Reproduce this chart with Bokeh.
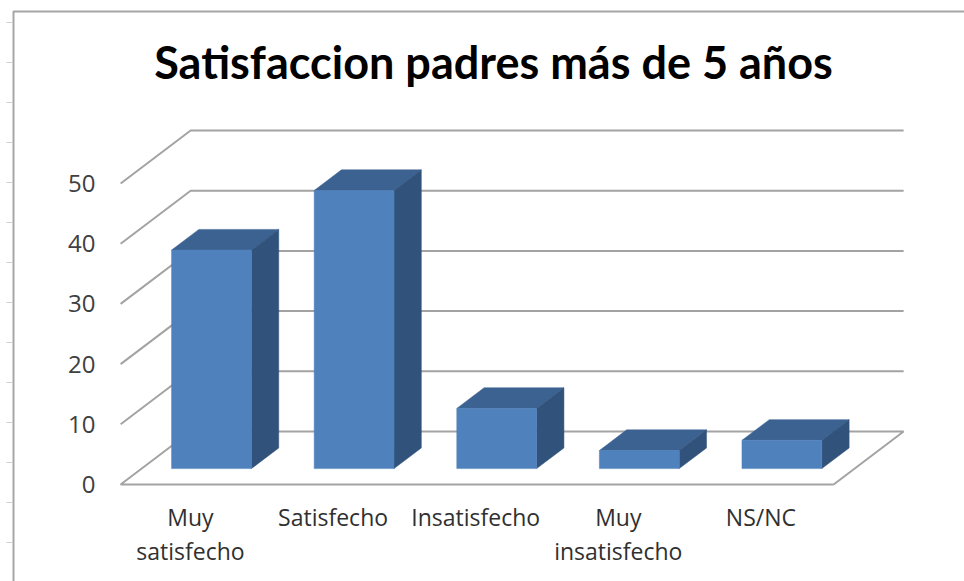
from bokeh.plotting import figure
from bokeh.models import Range1d, LinearAxis, FixedTicker
from bokeh.core.properties import value
from bokeh.embed import file_html
from bokeh.resources import INLINE

# ---- data ----
title_text = "Satisfaccion padres más de 5 años"
categories = ["Muy satisfecho", "Satisfecho", "Insatisfecho", "Muy insatisfecho", "NS/NC"]
tick_labels = ["Muy\nsatisfecho", "Satisfecho", "Insatisfecho", "Muy\ninsatisfecho", "NS/NC"]
values = [36.3, 46.2, 10.0, 3.0, 4.7]
value_ticks = [0, 10, 20, 30, 40, 50]

# ---- layout: page pixels -> data scale ----
W, H = 964, 581
X0_PX, X_STEP = 190.0, 142.6      # page x of category 0, px per category
Y0_PX, Y_STEP = 484.0, 6.02       # page y of value 0, px per value unit
DX, DY = 70 / X_STEP, 53 / Y_STEP  # depth vector of the 3D floor in data units
HALF = 0.28                        # half bar width
D_FRONT, D_BACK = 0.30, 0.69       # bar depth positions


def dx(px):
    return (px - X0_PX) / X_STEP


def dy(py):
    return (Y0_PX - py) / Y_STEP


def proj(x, v, d):
    return x + DX * d, v + DY * d


p = figure(width=W, height=H, toolbar_location=None, output_backend="svg",
           x_range=Range1d(dx(0), dx(W)), y_range=Range1d(dy(H), dy(0)),
           min_border=0, min_border_left=0, min_border_right=0, min_border_top=0, min_border_bottom=0,
           background_fill_color="white", border_fill_color="white", outline_line_color=None,
           x_axis_location=None, y_axis_location=None)
p.grid.visible = False

# chart area frame with the stray ruler ticks at its left
FRAME = "#A6A6A6"
p.line([dx(13), dx(13), dx(964)], [dy(581), dy(11), dy(11)], line_color=FRAME, line_width=2)
for k in range(14):
    yy = dy(22 + 40 * k)
    p.line([dx(6), dx(12)], [yy, yy], line_color="#CFCFCF", line_width=1)

# walls and floor
GRID = "#A3A3A3"
xL, xR = -0.49, 4.51
for v in value_ticks:
    xa, ya = proj(xL, v, 0)
    xb, yb = proj(xL, v, 1)
    xc, yc = proj(xR, v, 1)
    if v == 0:
        xd, yd = proj(xR, v, 0)
        p.line([xd, xa, xb, xc, xd], [yd, ya, yb, yc, yd], line_color=GRID, line_width=2)
    else:
        p.line([xa, xb, xc], [ya, yb, yc], line_color=GRID, line_width=2)

# bars
for i, v in enumerate(values):
    l, r = i - HALF, i + HALF
    fl = proj(l, 0, D_FRONT)
    fr = proj(r, 0, D_FRONT)
    tl = proj(l, v, D_FRONT)
    tr = proj(r, v, D_FRONT)
    bl = proj(l, v, D_BACK)
    br = proj(r, v, D_BACK)
    bb = proj(r, 0, D_BACK)
    p.patch([tl[0], tr[0], br[0], bl[0]], [tl[1], tr[1], br[1], bl[1]],
            fill_color="#3C6291", line_color="#3C6291", line_width=0.5)
    p.patch([fr[0], bb[0], br[0], tr[0]], [fr[1], bb[1], br[1], tr[1]],
            fill_color="#31527B", line_color="#31527B", line_width=0.5)
    p.patch([fl[0], fr[0], tr[0], tl[0]], [fl[1], fr[1], tr[1], tl[1]],
            fill_color="#4F81BD", line_color="#4F81BD", line_width=0.5)

# real axes placed inside the frame
yax = LinearAxis(fixed_location=dx(101), ticker=FixedTicker(ticks=value_ticks))
yax.axis_line_color = None
yax.major_tick_line_color = None
yax.minor_tick_line_color = None
yax.major_label_standoff = 0
yax.major_label_text_font = "Open Sans"
yax.major_label_text_font_size = "24px"
yax.major_label_text_color = "#404040"
p.add_layout(yax, "left")

xax = LinearAxis(fixed_location=dy(494), ticker=FixedTicker(ticks=list(range(len(categories)))))
xax.axis_line_color = None
xax.major_tick_line_color = None
xax.minor_tick_line_color = None
xax.major_label_standoff = 0
xax.major_label_overrides = {i: t for i, t in enumerate(tick_labels)}
xax.major_label_text_font = "Open Sans"
xax.major_label_text_font_size = "23px"
xax.major_label_text_color = "#303030"
xax.major_label_text_line_height = 1.09
p.add_layout(xax, "below")

p.text([dx(493)], [dy(61)], text=[title_text], text_font=value("Lato"), text_font_size="45px",
       text_font_style="bold", text_color="#000000", text_align="center", text_baseline="middle")

open("out.html", "w").write(file_html(p, INLINE))
